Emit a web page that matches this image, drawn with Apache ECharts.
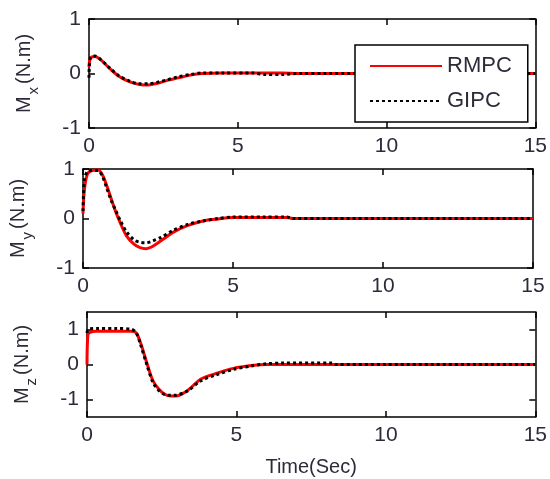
<!DOCTYPE html>
<html><head><meta charset="utf-8">
<script src="https://cdn.jsdelivr.net/npm/echarts@6/dist/echarts.min.js"></script>
<style>html,body{margin:0;padding:0;background:#fff}#c{width:550px;height:479px}</style>
</head><body><div id="c"></div>
<script>
// ---- data ----
const xTicks = [0, 5, 10, 15];
const tX = [0, 0.05, 0.2, 0.4, 0.7, 1.0, 1.4, 1.7, 2.0, 2.3, 2.6, 3.0, 3.4, 3.8, 4.5, 5.5, 5.9, 6.5, 7, 8, 10, 15];
const mxRMPC = [0.12, 0.28, 0.31, 0.25, 0.09, -0.05, -0.16, -0.2, -0.21, -0.18, -0.13, -0.08, -0.03, 0.0, 0.01, 0.01, 0.01, 0.01, 0, 0, 0, 0];
const mxGIPC = [-0.08, 0.3, 0.32, 0.25, 0.1, -0.04, -0.15, -0.19, -0.19, -0.16, -0.12, -0.06, -0.02, 0.01, 0.01, 0.01, -0.02, -0.02, 0, 0, 0, 0];

const tY = [0, 0.05, 0.15, 0.3, 0.5, 0.65, 0.8, 0.95, 1.1, 1.25, 1.45, 1.7, 1.9, 2.1, 2.3, 2.6, 3.0, 3.5, 4.0, 4.5, 5.0, 6.0, 6.8, 7, 10, 15];
const myRMPC = [0.1, 0.6, 0.9, 0.97, 0.98, 0.88, 0.65, 0.38, 0.12, -0.1, -0.35, -0.52, -0.59, -0.61, -0.57, -0.45, -0.28, -0.14, -0.05, -0.01, 0.02, 0.02, 0.02, 0, 0, 0];
const myGIPC = [0.15, 0.8, 0.95, 0.97, 0.97, 0.85, 0.6, 0.35, 0.15, -0.05, -0.27, -0.43, -0.48, -0.49, -0.46, -0.38, -0.24, -0.12, -0.05, 0, 0.03, 0.03, 0.03, 0, 0, 0];

const tZ = [0, 0.03, 0.1, 0.3, 1.0, 1.5, 1.65, 1.8, 2.0, 2.2, 2.4, 2.6, 2.8, 3.0, 3.2, 3.4, 3.8, 4.3, 4.9, 5.5, 6.0, 6.5, 8.2, 8.3, 10, 15];
const mzRMPC = [0, 0.85, 0.92, 0.95, 0.95, 0.95, 0.9, 0.6, 0.05, -0.45, -0.7, -0.85, -0.9, -0.9, -0.83, -0.72, -0.42, -0.26, -0.11, -0.03, 0, 0, 0, 0, 0, 0];
const mzGIPC = [0.9, 1.0, 1.02, 1.03, 1.03, 1.0, 0.9, 0.55, 0.0, -0.5, -0.74, -0.86, -0.88, -0.87, -0.82, -0.74, -0.47, -0.3, -0.14, -0.04, 0.02, 0.04, 0.04, 0, 0, 0];
const yTicks = [-1, 0, 1];
const yNames = ['x', 'y', 'z'];
const seriesNames = ['RMPC', 'GIPC'];

// ---- chart ----
const zip = (t, v) => t.map((x, i) => [x, v[i]]);
const txtColor = '#2b2b3a';
const grids = [
  {left: 89, top: 19, width: 449, height: 109},
  {left: 83, top: 169, width: 450, height: 99},
  {left: 87, top: 312, width: 449, height: 105}
];
const yRanges = [[-1, 1], [-1, 1], [-1.5, 1.5]];
const xAxes = [], yAxes = [];
const lineStyleAx = {color: '#000', width: 1.5};
grids.forEach((g, i) => {
  const base = {
    gridIndex: i, type: 'value', min: 0, max: 15, interval: 5,
    axisLine: {show: true, onZero: false, lineStyle: lineStyleAx},
    axisTick: {show: true, inside: true, length: 6, lineStyle: lineStyleAx},
    splitLine: {show: false}
  };
  xAxes.push(Object.assign({}, base, {
    position: 'bottom',
    axisLabel: {show: true, fontSize: 21, color: txtColor, margin: 8, fontFamily: 'Liberation Sans, Arial'},
    name: i === 2 ? 'Time(Sec)' : '', nameLocation: 'middle', nameGap: 40,
    nameTextStyle: {fontSize: 20, color: txtColor, fontFamily: 'Liberation Sans, Arial'}
  }));
  xAxes.push(Object.assign({}, base, {position: 'top', axisLabel: {show: false}}));
  const yb = {
    gridIndex: i, type: 'value', min: yRanges[i][0], max: yRanges[i][1],
    axisLine: {show: true, onZero: false, lineStyle: lineStyleAx},
    axisTick: {show: true, inside: true, length: 6, customValues: yTicks, lineStyle: lineStyleAx},
    splitLine: {show: false}
  };
  yAxes.push(Object.assign({}, yb, {
    position: 'left',
    axisLabel: {show: true, customValues: yTicks, fontSize: 21, color: txtColor, margin: 8, fontFamily: 'Liberation Sans, Arial'},
    name: '{m|M}{s|' + yNames[i] + '}{m|(N.m)}', nameLocation: 'middle', nameRotate: 90, nameGap: 48,
    nameTextStyle: {
      color: txtColor, fontFamily: 'Liberation Sans, Arial',
      rich: {
        m: {fontSize: 20, color: txtColor, fontFamily: 'Liberation Sans, Arial'},
        s: {fontSize: 15, color: txtColor, fontFamily: 'Liberation Sans, Arial', padding: [18, 3, 0, 2]}
      }
    }
  }));
  yAxes.push(Object.assign({}, yb, {position: 'right', axisLabel: {show: false}}));
});

const data = [[tX, mxRMPC, mxGIPC], [tY, myRMPC, myGIPC], [tZ, mzRMPC, mzGIPC]];
const colors = ['#ff0000', '#000000'];
const series = [];
data.forEach((d, i) => {
  series.push({
    name: seriesNames[0], type: 'line', xAxisIndex: 2 * i, yAxisIndex: 2 * i,
    data: zip(d[0], d[1]), symbol: 'none', smooth: 0.3,
    itemStyle: {color: colors[0]},
    lineStyle: {color: colors[0], width: 3}, z: 2
  });
  series.push({
    name: seriesNames[1], type: 'line', xAxisIndex: 2 * i, yAxisIndex: 2 * i,
    data: zip(d[0], d[2]), symbol: 'none', smooth: 0.3,
    itemStyle: {color: colors[1]},
    lineStyle: {color: colors[1], width: 3, type: [3, 3]}, z: 3
  });
});

const chart = echarts.init(document.getElementById('c'), null, {renderer: 'canvas'});
chart.setOption({
  animation: false,
  backgroundColor: '#fff',
  grid: grids,
  xAxis: xAxes,
  yAxis: yAxes,
  legend: {
    data: seriesNames, orient: 'vertical', left: 355, top: 45,
    backgroundColor: '#fff', borderColor: '#000', borderWidth: 1.5,
    padding: [10, 16, 10, 14], itemWidth: 72, itemHeight: 12, itemGap: 13,
    itemStyle: {opacity: 0},
    textStyle: {fontSize: 22, color: txtColor, fontFamily: 'Liberation Sans, Arial'},
    z: 10
  },
  series: series
});
</script></body></html>
